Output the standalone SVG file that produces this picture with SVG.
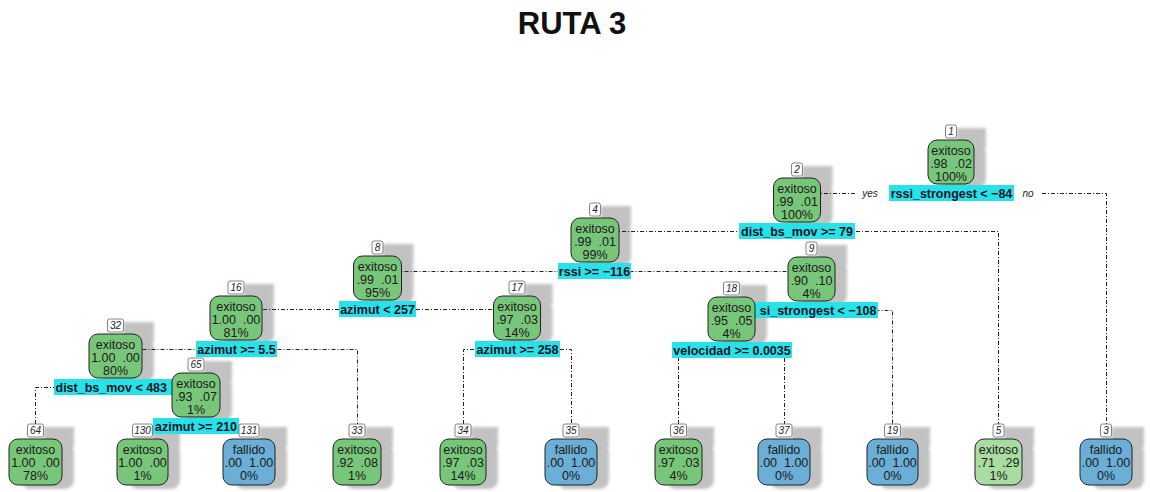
<svg xmlns="http://www.w3.org/2000/svg" width="1150" height="492" viewBox="0 0 1150 492">
<defs>
<filter id="soft" x="-20%" y="-20%" width="140%" height="140%"><feGaussianBlur stdDeviation="1.8"/></filter>
<style>
.title{font:bold 31px "Liberation Sans",Arial,sans-serif;fill:#111;text-anchor:middle}
.br{fill:none;stroke:#222;stroke-width:1;stroke-dasharray:4 2 1 2}
.sh rect{fill:#c2c2c2}
.box{stroke:#222;stroke-width:1}
.g{fill:#78c679}
.lg{fill:#a8dca0}
.b{fill:#6baed6}
.nb{fill:#fff;stroke:#666;stroke-width:0.8}
.nt{font:italic 10px "Liberation Sans",Arial,sans-serif;fill:#223;text-anchor:middle}
.t{font:12.5px "Liberation Sans",Arial,sans-serif;fill:#1a1a1a;text-anchor:middle}
.lab{fill:#27e2e8}
.lt{font:bold 12.5px "Liberation Sans",Arial,sans-serif;fill:#141428;text-anchor:middle}
.yn{font:italic 10px "Liberation Sans",Arial,sans-serif;fill:#222;text-anchor:middle}
</style>
</defs>
<rect width="1150" height="492" fill="#fff"/>
<text class="title" x="572" y="34">RUTA 3</text>

<!-- drop shadows behind every node -->
<g class="sh" filter="url(#soft)">
<rect x="940" y="144" width="46" height="44" rx="9"/><rect x="956.5" y="128" width="29.5" height="20"/>
<rect x="785.5" y="182" width="47" height="44" rx="9"/><rect x="802.5" y="166" width="30" height="20"/>
<rect x="583" y="222" width="48" height="44" rx="9"/><rect x="600.5" y="206" width="30.5" height="20"/>
<rect x="365.5" y="260" width="48" height="44" rx="9"/><rect x="383" y="244" width="30.5" height="20"/>
<rect x="800" y="261" width="47" height="44" rx="9"/><rect x="817" y="245" width="30" height="20"/>
<rect x="222" y="300" width="52" height="44" rx="9"/><rect x="244" y="284" width="30" height="20"/>
<rect x="505.5" y="300" width="47" height="44" rx="9"/><rect x="525" y="284" width="27.5" height="20"/>
<rect x="720" y="301" width="47" height="44" rx="9"/><rect x="739.5" y="285" width="27.5" height="20"/>
<rect x="101" y="338" width="53" height="44" rx="9"/><rect x="123.5" y="322" width="30.5" height="20"/>
<rect x="184" y="377" width="48" height="44" rx="9"/><rect x="204" y="361" width="28" height="20"/>
<rect x="21" y="443" width="53" height="46" rx="9"/><rect x="43.5" y="427" width="30.5" height="20"/>
<rect x="129" y="443" width="51" height="46" rx="9"/><rect x="152.5" y="427" width="27.5" height="20"/>
<rect x="235" y="443" width="52" height="46" rx="9"/><rect x="259" y="427" width="28" height="20"/>
<rect x="345" y="443" width="48" height="46" rx="9"/><rect x="365" y="427" width="28" height="20"/>
<rect x="452" y="443" width="46" height="46" rx="9"/><rect x="471" y="427" width="27" height="20"/>
<rect x="557" y="443" width="52" height="46" rx="9"/><rect x="579" y="427" width="30" height="20"/>
<rect x="667" y="443" width="47" height="46" rx="9"/><rect x="686.5" y="427" width="27.5" height="20"/>
<rect x="770" y="443" width="52" height="46" rx="9"/><rect x="792" y="427" width="30" height="20"/>
<rect x="879" y="443" width="51" height="46" rx="9"/><rect x="900.5" y="427" width="29.5" height="20"/>
<rect x="987" y="443" width="47" height="46" rx="9"/><rect x="1004" y="427" width="30" height="20"/>
<rect x="1092" y="443" width="52" height="46" rx="9"/><rect x="1111.5" y="427" width="32.5" height="20"/>
</g>

<!-- branches -->
<g id="edges">
<path class="br" d="M797 193.5H857"/>
<path class="br" d="M1042 193.5H1106.5V424"/>
<text class="yn" x="870" y="197">yes</text>
<text class="yn" x="1028" y="197">no</text>
<path class="br" d="M595 231.5H998.5V424"/>
<path class="br" d="M377.5 271.5H811.5"/>
<path class="br" d="M236 309.5H517"/>
<path class="br" d="M731.5 310.5H892.5V424"/>
<path class="br" d="M115.5 349.5H357.5V424"/>
<path class="br" d="M463.5 424V349.5H571.5V424"/>
<path class="br" d="M678.5 424V349.5H784.5V424"/>
<path class="br" d="M35.5 424V387.5H196"/>
<path class="br" d="M142.5 426.5H249"/>
</g>

<!-- nodes, preorder -->
<g id="n1">
<rect class="box g" x="928" y="140" width="46" height="44" rx="9"/>
<rect class="nb" x="945.5" y="125" width="11" height="13" rx="2"/><text class="nt" x="951" y="135">1</text>
<text class="t" x="951" y="155">exitoso</text><text class="t" x="951" y="168" xml:space="preserve">.98  .02</text><text class="t" x="951" y="181">100%</text>
<rect class="lab" x="889" y="185" width="125" height="16"/><text class="lt" x="951.5" y="197.5">rssi_strongest &lt; −84</text>
</g>
<g id="n2">
<rect class="box g" x="773.5" y="178" width="47" height="44" rx="9"/>
<rect class="nb" x="791.5" y="163" width="11" height="13" rx="2"/><text class="nt" x="797" y="173">2</text>
<text class="t" x="797" y="193">exitoso</text><text class="t" x="797" y="206" xml:space="preserve">.99  .01</text><text class="t" x="797" y="219">100%</text>
<rect class="lab" x="739" y="223" width="116" height="16"/><text class="lt" x="797" y="235.5">dist_bs_mov &gt;= 79</text>
</g>
<g id="n4">
<rect class="box g" x="571" y="218" width="48" height="44" rx="9"/>
<rect class="nb" x="589.5" y="203" width="11" height="13" rx="2"/><text class="nt" x="595" y="213">4</text>
<text class="t" x="595" y="233">exitoso</text><text class="t" x="595" y="246" xml:space="preserve">.99  .01</text><text class="t" x="595" y="259">99%</text>
<rect class="lab" x="558" y="263" width="73" height="16"/><text class="lt" x="594.5" y="275.5">rssi &gt;= −116</text>
</g>
<g id="n8">
<rect class="box g" x="353.5" y="256" width="48" height="44" rx="9"/>
<rect class="nb" x="372" y="241" width="11" height="13" rx="2"/><text class="nt" x="377.5" y="251">8</text>
<text class="t" x="377.5" y="271">exitoso</text><text class="t" x="377.5" y="284" xml:space="preserve">.99  .01</text><text class="t" x="377.5" y="297">95%</text>
<rect class="lab" x="339" y="301" width="77" height="16"/><text class="lt" x="377.5" y="313.5">azimut &lt; 257</text>
</g>
<g id="n16">
<rect class="box g" x="210" y="296" width="52" height="44" rx="9"/>
<rect class="nb" x="228" y="281" width="16" height="13" rx="2"/><text class="nt" x="236" y="291">16</text>
<text class="t" x="236" y="311">exitoso</text><text class="t" x="236" y="324" xml:space="preserve">1.00  .00</text><text class="t" x="236" y="337">81%</text>
<rect class="lab" x="196" y="341" width="81" height="16"/><text class="lt" x="236.5" y="353.5">azimut &gt;= 5.5</text>
</g>
<g id="n32">
<rect class="box g" x="89" y="334" width="53" height="44" rx="9"/>
<rect class="nb" x="107.5" y="319" width="16" height="13" rx="2"/><text class="nt" x="115.5" y="329">32</text>
<text class="t" x="115.5" y="349">exitoso</text><text class="t" x="115.5" y="362" xml:space="preserve">1.00  .00</text><text class="t" x="115.5" y="375">80%</text>
<rect class="lab" x="54" y="379" width="123" height="16"/><text class="lt" x="55.5" y="391.5" style="text-anchor:start">dist_bs_mov &lt; 483</text>
</g>
<g id="n64">
<rect class="box g" x="9" y="439" width="53" height="46" rx="9"/>
<rect class="nb" x="27.5" y="424" width="16" height="13" rx="2"/><text class="nt" x="35.5" y="434">64</text>
<text class="t" x="35.5" y="454">exitoso</text><text class="t" x="35.5" y="467" xml:space="preserve">1.00  .00</text><text class="t" x="35.5" y="480">78%</text>
</g>
<g id="n65">
<rect class="box g" x="172" y="373" width="48" height="44" rx="9"/>
<rect class="nb" x="188" y="358" width="16" height="13" rx="2"/><text class="nt" x="196" y="368">65</text>
<text class="t" x="196" y="388">exitoso</text><text class="t" x="196" y="401" xml:space="preserve">.93  .07</text><text class="t" x="196" y="414">1%</text>
<rect class="lab" x="153" y="418" width="86" height="16"/><text class="lt" x="196" y="430.5">azimut &gt;= 210</text>
</g>
<g id="n130">
<rect class="box g" x="117" y="439" width="51" height="46" rx="9"/>
<rect class="nb" x="132.5" y="424" width="20" height="13" rx="2"/><text class="nt" x="142.5" y="434">130</text>
<text class="t" x="142.5" y="454">exitoso</text><text class="t" x="142.5" y="467" xml:space="preserve">1.00  .00</text><text class="t" x="142.5" y="480">1%</text>
</g>
<g id="n131">
<rect class="box b" x="223" y="439" width="52" height="46" rx="9"/>
<rect class="nb" x="239" y="424" width="20" height="13" rx="2"/><text class="nt" x="249" y="434">131</text>
<text class="t" x="249" y="454">fallido</text><text class="t" x="249" y="467" xml:space="preserve">.00  1.00</text><text class="t" x="249" y="480">0%</text>
</g>
<g id="n33">
<rect class="box g" x="333" y="439" width="48" height="46" rx="9"/>
<rect class="nb" x="349" y="424" width="16" height="13" rx="2"/><text class="nt" x="357" y="434">33</text>
<text class="t" x="357" y="454">exitoso</text><text class="t" x="357" y="467" xml:space="preserve">.92  .08</text><text class="t" x="357" y="480">1%</text>
</g>
<g id="n17">
<rect class="box g" x="493.5" y="296" width="47" height="44" rx="9"/>
<rect class="nb" x="509" y="281" width="16" height="13" rx="2"/><text class="nt" x="517" y="291">17</text>
<text class="t" x="517" y="311">exitoso</text><text class="t" x="517" y="324" xml:space="preserve">.97  .03</text><text class="t" x="517" y="337">14%</text>
<rect class="lab" x="475" y="341" width="85" height="16"/><text class="lt" x="517.5" y="353.5">azimut &gt;= 258</text>
</g>
<g id="n34">
<rect class="box g" x="440" y="439" width="46" height="46" rx="9"/>
<rect class="nb" x="455" y="424" width="16" height="13" rx="2"/><text class="nt" x="463" y="434">34</text>
<text class="t" x="463" y="454">exitoso</text><text class="t" x="463" y="467" xml:space="preserve">.97  .03</text><text class="t" x="463" y="480">14%</text>
</g>
<g id="n35">
<rect class="box b" x="545" y="439" width="52" height="46" rx="9"/>
<rect class="nb" x="563" y="424" width="16" height="13" rx="2"/><text class="nt" x="571" y="434">35</text>
<text class="t" x="571" y="454">fallido</text><text class="t" x="571" y="467" xml:space="preserve">.00  1.00</text><text class="t" x="571" y="480">0%</text>
</g>
<g id="n9">
<rect class="box g" x="788" y="257" width="47" height="44" rx="9"/>
<rect class="nb" x="806" y="242" width="11" height="13" rx="2"/><text class="nt" x="811.5" y="252">9</text>
<text class="t" x="811.5" y="272">exitoso</text><text class="t" x="811.5" y="285" xml:space="preserve">.90  .10</text><text class="t" x="811.5" y="298">4%</text>
<rect class="lab" x="744" y="302" width="134" height="16"/><text class="lt" x="876.5" y="314.5" style="text-anchor:end">si_strongest &lt; −108</text>
</g>
<g id="n18">
<rect class="box g" x="708" y="297" width="47" height="44" rx="9"/>
<rect class="nb" x="723.5" y="282" width="16" height="13" rx="2"/><text class="nt" x="731.5" y="292">18</text>
<text class="t" x="731.5" y="312">exitoso</text><text class="t" x="731.5" y="325" xml:space="preserve">.95  .05</text><text class="t" x="731.5" y="338">4%</text>
<rect class="lab" x="672" y="342" width="120" height="16"/><text class="lt" x="732" y="354.5">velocidad &gt;= 0.0035</text>
</g>
<g id="n36">
<rect class="box g" x="655" y="439" width="47" height="46" rx="9"/>
<rect class="nb" x="670.5" y="424" width="16" height="13" rx="2"/><text class="nt" x="678.5" y="434">36</text>
<text class="t" x="678.5" y="454">exitoso</text><text class="t" x="678.5" y="467" xml:space="preserve">.97  .03</text><text class="t" x="678.5" y="480">4%</text>
</g>
<g id="n37">
<rect class="box b" x="758" y="439" width="52" height="46" rx="9"/>
<rect class="nb" x="776" y="424" width="16" height="13" rx="2"/><text class="nt" x="784" y="434">37</text>
<text class="t" x="784" y="454">fallido</text><text class="t" x="784" y="467" xml:space="preserve">.00  1.00</text><text class="t" x="784" y="480">0%</text>
</g>
<g id="n19">
<rect class="box b" x="867" y="439" width="51" height="46" rx="9"/>
<rect class="nb" x="884.5" y="424" width="16" height="13" rx="2"/><text class="nt" x="892.5" y="434">19</text>
<text class="t" x="892.5" y="454">fallido</text><text class="t" x="892.5" y="467" xml:space="preserve">.00  1.00</text><text class="t" x="892.5" y="480">0%</text>
</g>
<g id="n5">
<rect class="box lg" x="975" y="439" width="47" height="46" rx="9"/>
<rect class="nb" x="993" y="424" width="11" height="13" rx="2"/><text class="nt" x="998.5" y="434">5</text>
<text class="t" x="998.5" y="454">exitoso</text><text class="t" x="998.5" y="467" xml:space="preserve">.71  .29</text><text class="t" x="998.5" y="480">1%</text>
</g>
<g id="n3">
<rect class="box b" x="1080" y="439" width="52" height="46" rx="9"/>
<rect class="nb" x="1100.5" y="424" width="11" height="13" rx="2"/><text class="nt" x="1106" y="434">3</text>
<text class="t" x="1106" y="454">fallido</text><text class="t" x="1106" y="467" xml:space="preserve">.00  1.00</text><text class="t" x="1106" y="480">0%</text>
</g>
</svg>
